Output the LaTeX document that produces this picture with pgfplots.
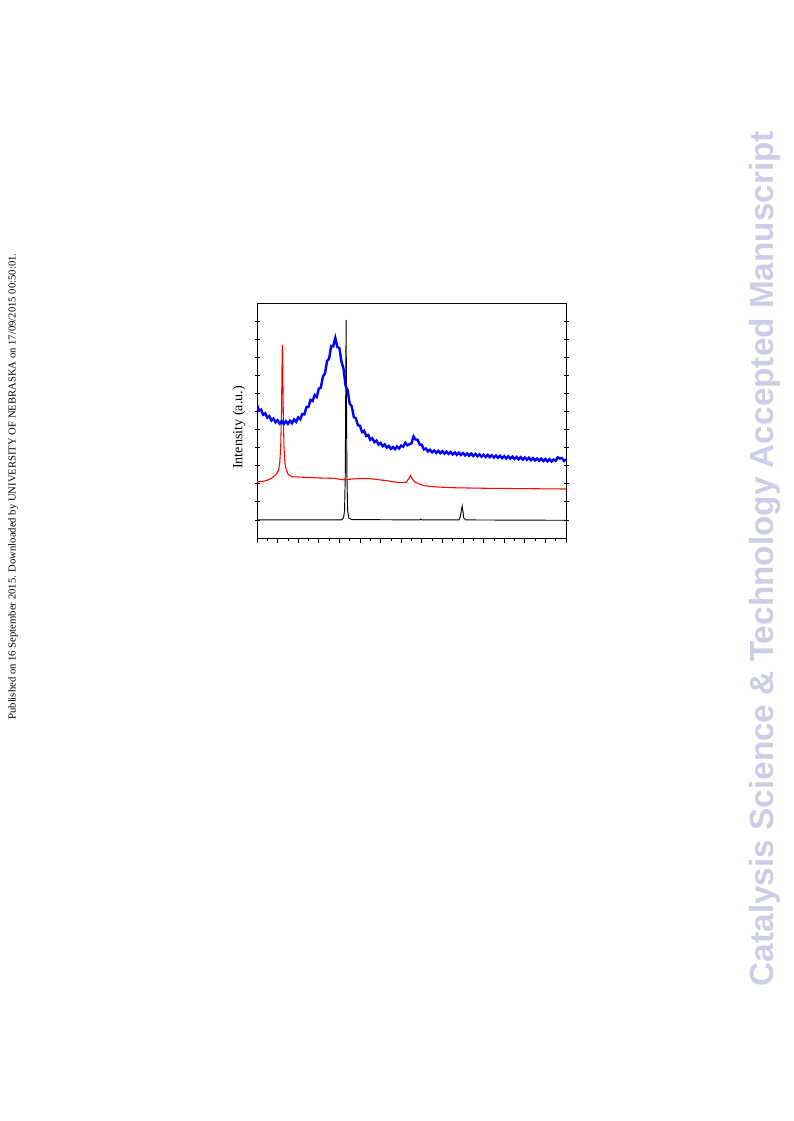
\documentclass[border=0pt]{standalone}
\usepackage{pgfplots}
\pgfplotsset{compat=1.18}
\usepackage{fontspec}
\setmainfont{Liberation Serif}
\newfontfamily\wmfont{Liberation Sans}
\definecolor{wm}{RGB}{205,205,230}
\definecolor{xrdblue}{RGB}{0,0,255}
\definecolor{xrdred}{RGB}{255,0,0}
\begin{document}
\begin{tikzpicture}
\fill[white] (0,0) rectangle (594.75pt,-840.75pt);
\node[rotate=90, inner sep=0pt, font=\fontsize{8}{9}\selectfont] at (9.75pt,-364.9pt)
 {Published on 16 September 2015. Downloaded by UNIVERSITY OF NEBRASKA on 17/09/2015 00:50:01.};
\node[rotate=90, inner sep=0pt, text=wm, font=\wmfont\bfseries\fontsize{25}{28}\selectfont] at (573.75pt,-418.9pt)
 {Catalysis Science \& Technology Accepted Manuscript};
\begin{axis}[
  at={(192.75pt,-227.25pt)}, anchor=north west,
  scale only axis, width=231.75pt, height=176.25pt,
  xmin=0, xmax=30, ymin=0, ymax=13,
  xtick={0,2,...,30}, minor x tick num=1, xticklabels={},
  ytick={1,...,12}, yticklabels={},
  xtick pos=bottom, xtick align=outside, ytick align=center,
  major tick length=3.75pt, minor tick length=2.25pt,
  axis line style={line width=0.6pt},
  every tick/.style={black, line width=0.6pt},
  ylabel={Intensity (a.u.)},
  ylabel style={at={(axis description cs:0,0.47)}, anchor=center, yshift=13.5pt, font=\fontsize{10.6}{12}\selectfont},
  clip=true,
]
% black
\addplot[black, line width=0.7pt] coordinates {
(0,1.0) (8.2,1.0) (8.4,1.12) (8.5,1.5) (8.57,3.5) (8.61,7.5) (8.65,12.06) (8.69,7.5) (8.73,3.5) (8.8,1.5) (8.92,1.1) (9.2,1.02)
(15.8,1.0) (15.9,1.05) (16.0,1.0) (19.6,1.0) (19.75,1.2) (19.85,1.55) (19.92,1.77) (20.0,1.45) (20.08,1.1) (20.25,1.0) (30,0.98)};
% red
\addplot[xrdred, line width=0.8pt] coordinates {
(0,3.11) (0.5,3.12) (1.0,3.2) (1.4,3.3) (1.6,3.39) (1.9,3.55) (2.1,3.75) (2.2,4.1) (2.3,5) (2.38,7) (2.43,9.5) (2.46,10.67) (2.5,9.5) (2.55,7) (2.62,5) (2.72,4.1) (2.85,3.75) (3.05,3.5) (3.4,3.39)
(4.5,3.36) (6.1,3.32) (7.5,3.3) (8.4,3.22) (10,3.3) (11,3.28) (12.6,3.17) (13.9,3.06) (14.5,3.08) (14.75,3.3) (14.9,3.46) (15.05,3.3) (15.3,3.1) (16.15,2.9) (17.5,2.82) (19.1,2.78) (22.3,2.75) (26,2.73) (30,2.71)};
% blue
\addplot[xrdblue, line width=1.8pt] coordinates {
(0.0,7.36) (0.2,7.05) (0.4,7.10) (0.6,6.82) (0.8,6.90) (1.0,6.66) (1.2,6.74) (1.4,6.50) (1.6,6.61) (1.8,6.40)
(2.0,6.52) (2.2,6.33) (2.4,6.47) (2.6,6.30) (2.8,6.46) (3.0,6.31) (3.2,6.49) (3.4,6.35) (3.6,6.56) (3.8,6.43)
(4.0,6.67) (4.2,6.57) (4.4,6.86) (4.6,6.84) (4.8,7.24) (5.0,7.25) (5.2,7.64) (5.4,7.58) (5.6,7.91) (5.8,7.80)
(6.0,8.27) (6.2,8.31) (6.4,8.94) (6.6,9.10) (6.8,9.79) (7.0,9.92) (7.2,10.62) (7.4,10.60) (7.6,11.07) (7.8,10.57)
(8.0,10.50) (8.2,9.76) (8.4,9.37) (8.6,8.42) (8.8,8.18) (9.0,7.43) (9.2,7.29) (9.4,6.69) (9.6,6.62) (9.8,6.23)
(10.0,6.21) (10.2,5.86) (10.4,5.93) (10.6,5.64) (10.8,5.70) (11.0,5.43) (11.2,5.52) (11.4,5.30) (11.6,5.39) (11.8,5.17)
(12.0,5.26) (12.2,5.08) (12.4,5.18) (12.6,5.00) (12.8,5.10) (13.0,4.93) (13.2,5.03) (13.4,4.91) (13.6,5.07) (13.8,4.95)
(14.0,5.11) (14.2,5.05) (14.4,5.27) (14.6,5.13) (14.8,5.19) (15.0,5.24) (15.2,5.62) (15.4,5.45) (15.6,5.43) (15.8,5.17)
(16.0,5.16) (16.2,4.90) (16.4,4.95) (16.6,4.79) (16.8,4.88) (17.0,4.74) (17.2,4.84) (17.4,4.71) (17.6,4.82) (17.8,4.69)
(18.0,4.80) (18.2,4.67) (18.4,4.78) (18.6,4.65) (18.8,4.76) (19.0,4.62) (19.2,4.73) (19.4,4.60) (19.6,4.72) (19.8,4.59)
(20.0,4.70) (20.2,4.57) (20.4,4.68) (20.6,4.55) (20.8,4.67) (21.0,4.54) (21.2,4.65) (21.4,4.52) (21.6,4.63) (21.8,4.50)
(22.0,4.61) (22.2,4.48) (22.4,4.60) (22.6,4.47) (22.8,4.58) (23.0,4.45) (23.2,4.56) (23.4,4.44) (23.6,4.55) (23.8,4.42)
(24.0,4.53) (24.2,4.40) (24.4,4.52) (24.6,4.39) (24.8,4.50) (25.0,4.37) (25.2,4.48) (25.4,4.35) (25.6,4.47) (25.8,4.34)
(26.0,4.45) (26.2,4.32) (26.4,4.44) (26.6,4.31) (26.8,4.42) (27.0,4.29) (27.2,4.40) (27.4,4.28) (27.6,4.39) (27.8,4.26)
(28.0,4.37) (28.2,4.24) (28.4,4.36) (28.6,4.23) (28.8,4.34) (29.0,4.27) (29.2,4.46) (29.4,4.40) (29.6,4.42) (29.8,4.26)
(30.0,4.35)};
\end{axis}
\end{tikzpicture}
\end{document}
